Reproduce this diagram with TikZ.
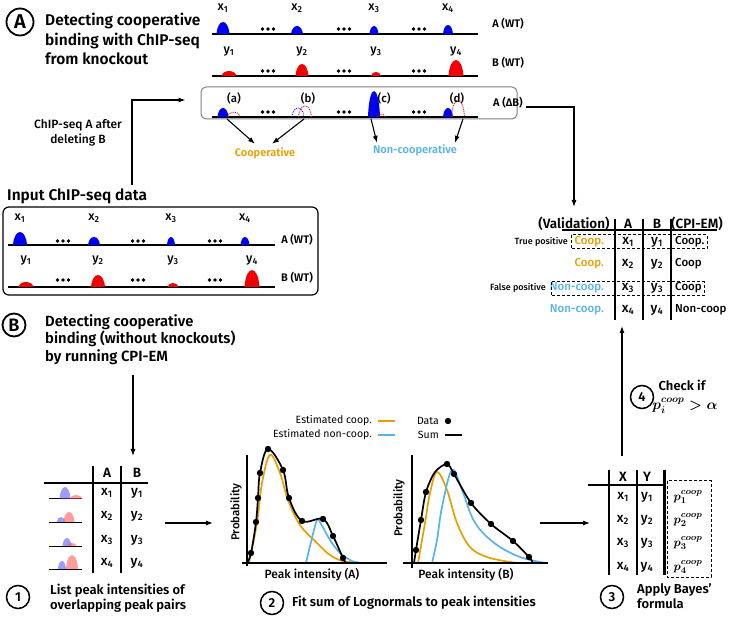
\documentclass[tikz,border=0pt]{standalone}
\usepackage{fontspec}
\IfFontExistsTF{Fira Sans SemiBold}
  {\setmainfont{Fira Sans}[BoldFont={Fira Sans SemiBold}]}
  {\setmainfont{Fira Sans}}
\IfFontExistsTF{Fira Sans Medium}
  {\newfontfamily\medfont{Fira Sans Medium}}
  {\newcommand{\medfont}{\bfseries}}
\usetikzlibrary{arrows.meta}

\definecolor{coopc}{HTML}{E69F00}
\definecolor{ncoopc}{HTML}{56B4E9}
\definecolor{pkblue}{HTML}{0000F0}
\definecolor{pkred}{HTML}{F00000}

\newcommand{\bump}[5]{\path[#1] ({#2-#4},#3) .. controls ({#2-0.8*#4},{#3-1.33*#5}) and ({#2+0.8*#4},{#3-1.33*#5}) .. ({#2+#4},#3);}
\newcommand{\dotdotdot}[2]{\foreach \dx in {-5.5,0,5.5} {\fill ({#1+\dx},#2) circle (1.8);}}

\tikzset{
  arr/.style={-{Latex[length=7pt,width=5pt]}, line width=1.1pt},
  ttl/.style={font=\fontsize{15.5}{19.5}\selectfont\bfseries, align=left, inner sep=0pt, anchor=north west},
  stp/.style={font=\fontsize{13}{15}\selectfont\bfseries, align=left, inner sep=0pt},
  num/.style={circle, draw, line width=1.5pt, minimum size=23pt, inner sep=0pt, font=\fontsize{13}{13}\selectfont\bfseries},
  idx/.style={font=\fontsize{12.5}{14}\selectfont\medfont, inner sep=1pt},
  trk/.style={font=\fontsize{11}{13}\selectfont\bfseries, inner sep=1pt},
  hd/.style={font=\fontsize{13.5}{15}\selectfont\bfseries, inner sep=1pt},
  cell/.style={font=\fontsize{13.5}{15}\selectfont\medfont, inner sep=1pt},
  tag/.style={font=\fontsize{11.5}{13}\selectfont\medfont, inner sep=1pt},
  base/.style={line width=1.3pt},
  ax/.style={line width=2pt},
  dotpk/.style={densely dotted, line width=0.9pt},
}

\begin{document}
\begin{tikzpicture}[x=1pt, y=-1pt]
    \useasboundingbox (0,0) rectangle (729,620);

    % (A) knockout
    \node[circle, draw, line width=1.8pt, minimum size=27pt, inner sep=0pt, font=\fontsize{20}{20}\selectfont\bfseries] (cA) at (20,22) {A};
    \node[ttl] (ttlA) at (45,13) {Detecting cooperative\\binding with ChIP-seq\\from knockout};

    \draw[base] (212,34) -- (478,34);
    \foreach \x/\w/\h [count=\i] in {223/6.5/12, 297/6/8, 374/4.5/8, 448/5/9}
      {\bump{fill=pkblue}{\x}{34}{\w}{\h}
       \node[idx] (tax\i) at (\x,8) {x\textsubscript{\i}};}
    \foreach \x in {268,344,419} {\dotdotdot{\x}{29}}
    \node[trk] (taw) at (508,24) {A (WT)};

    \draw[base] (212,76) -- (478,76);
    \foreach \x/\w/\h [count=\i] in {229/7.5/5, 302/6.5/12, 376/5/4, 456/7.5/16}
      {\bump{fill=pkred}{\x}{76}{\w}{\h}
       \node[idx] (tby\i) at (\x,52) {y\textsubscript{\i}};}
    \foreach \x in {268,344,419} {\dotdotdot{\x}{71}}
    \node[trk] (tbw) at (508,63) {B (WT)};

    \node[draw=gray, rounded corners=5pt, line width=1pt, minimum width=316pt, minimum height=32pt] (kobox) at (359,103) {};
    \draw[base] (212,117) -- (478,117);
    \bump{fill=pkblue}{223}{117}{5.5}{9}
    \bump{draw=pkred, dotpk}{234}{117}{6}{5}
    \bump{draw=pkblue, dotpk}{298}{117}{6}{9}
    \bump{draw=pkred, dotpk}{305}{117}{6.5}{11}
    \bump{fill=pkblue}{374}{117}{6}{26}
    \bump{draw=pkred, dotpk}{381}{117}{4}{3}
    \bump{fill=pkblue}{448}{117}{5}{9}
    \bump{draw=pkred, dotpk}{458}{117}{6.5}{17}
    \foreach \x/\t in {234/a, 308/b, 384/c, 457/d}
      {\node[tag] (lb\t) at (\x,98) {(\t)};}
    \foreach \x in {268,344,419} {\dotdotdot{\x}{112}}
    \node[trk] (tko) at (508,103) {A (ΔB)};

    \node[font=\fontsize{11}{13}\selectfont\bfseries, text=coopc] (coop) at (265,153) {Cooperative};
    \node[font=\fontsize{11}{13}\selectfont\bfseries, text=ncoopc] (ncoop) at (415,150) {Non-cooperative};
    \coordinate (pa) at (227,119);
    \coordinate (pb) at (304,119);
    \coordinate (pc) at (371,119);
    \coordinate (pd) at (463,119);
    \draw[arr] (pa) -- ([xshift=-10pt]coop.north);
    \draw[arr] (pb) -- ([xshift=7pt]coop.north);
    \draw[arr] (pc) -- ([xshift=-38pt,yshift=-2pt]ncoop.north);
    \draw[arr] (pd) -- ([xshift=40pt,yshift=-2pt]ncoop.north);

    \node[font=\fontsize{12}{15}\selectfont\medfont, align=center] (ttlko) at (78,133) {ChIP-seq A after\\deleting B};
    \coordinate (ko0) at (132,185);
    \draw[arr] (ko0) |- ([xshift=-15pt,yshift=3pt]kobox.west);

    % input data
    \node[font=\fontsize{15.5}{19}\selectfont\bfseries, inner sep=0pt, anchor=west] (ttlin) at (7,196) {Input ChIP-seq data};
    \node[draw, rounded corners=6pt, line width=1.2pt, minimum width=315pt, minimum height=88pt] (inbox) at (160.5,251) {};
    \draw[base] (8,245) -- (275,245);
    \foreach \x/\w/\h [count=\i] in {20/7/13, 94/6/8, 171/4/8, 245/4.5/8}
      {\bump{fill=pkblue}{\x}{245}{\w}{\h}
       \node[idx] (iax\i) at (\x,218) {x\textsubscript{\i}};}
    \foreach \x in {63,138,215} {\dotdotdot{\x}{241}}
    \node[trk] (iaw) at (297,240) {A (WT)};
    \draw[base] (8,287) -- (275,287);
    \foreach \x/\w/\h [count=\i] in {26/7.5/5, 98/7/12, 173/5.5/4, 252/7.5/17}
      {\bump{fill=pkred}{\x}{287}{\w}{\h}
       \node[idx] (iby\i) at (\x,261) {y\textsubscript{\i}};}
    \foreach \x in {63,138,215} {\dotdotdot{\x}{280}}
    \node[trk] (ibw) at (297,278) {B (WT)};

    % validation table
    \coordinate (ko1) at ([xshift=8pt,yshift=-4pt]kobox.east);
    \node[hd] (vhdr) at (574,224) {(Validation)};
    \node[hd] (vA) at (628,224) {A};
    \node[hd] (vB) at (657,224) {B};
    \node[hd] (vC) at (697,224) {(CPI-EM)};
    \draw[arr] (ko1) -| ([yshift=9pt]vhdr.north);
    \foreach \x in {615,643,671} {\draw[line width=1.2pt] (\x,219) -- (\x,320);}
    \draw[line width=1.2pt] (562,230) -- (717,230);
    \foreach \y/\v/\c/\e [count=\i] in {242/Coop./coopc/Coop., 264/Coop./coopc/Coop, 288/Non-coop./ncoopc/Coop, 310/Non-coop./ncoopc/Non-coop}
      {\node[tag, text=\c, anchor=east] (vv\i) at (605,\y) {\v};
       \node[cell] (vx\i) at (628,\y) {x\textsubscript{\i}};
       \node[cell] (vy\i) at (657,\y) {y\textsubscript{\i}};
       \node[tag, anchor=west] (ve\i) at (674,\y) {\e};}
    \node[font=\fontsize{9}{11}\selectfont\medfont, anchor=east, inner sep=1pt] (tp) at (569,242) {True positive};
    \node[font=\fontsize{9}{11}\selectfont\medfont, anchor=east, inner sep=1pt] (fp) at (547,288) {False positive};
    \draw[densely dashed, line width=1pt] (571,235) rectangle (707,249);
    \draw[densely dashed, line width=1pt] (551,282) rectangle (704,296);

    % (B) CPI-EM
    \node[circle, draw, line width=1.8pt, minimum size=23pt, inner sep=0pt, font=\fontsize{18}{18}\selectfont\bfseries] (cB) at (14,325) {B};
    \node[ttl, font=\fontsize{14.8}{17.5}\selectfont\bfseries] (ttlB) at (45,314) {Detecting cooperative\\binding (without knockouts)\\by running CPI-EM};
    \coordinate (b0) at (133,375);
    \coordinate (b1) at (133,456);
    \draw[arr] (b0) -- (b1);

    % step 1
    \node[hd] (t1A) at (107,473) {A};
    \node[hd] (t1B) at (137,473) {B};
    \foreach \x in {93,121} {\draw[line width=1.2pt] (\x,466) -- (\x,573);}
    \draw[line width=1.2pt] (44,483) -- (148,483);
    \foreach \y/\ba/\wa/\ha/\bb/\wb/\hb [count=\i] in {499/65/5.5/12/76/6.5/4, 522/61/4/5/69/5.5/10, 546/67/4.5/8/72/4.5/3, 569/62/4/8/72/6/14}
      {\draw[line width=1pt] (49,\y) -- (82,\y);
       \bump{fill=blue!70, fill opacity=0.55}{\ba}{\y}{\wa}{\ha}
       \bump{fill=red!70, fill opacity=0.55}{\bb}{\y}{\wb}{\hb}
       \node[cell] (t1x\i) at (107,\y-6) {x\textsubscript{\i}};
       \node[cell] (t1y\i) at (137,\y-6) {y\textsubscript{\i}};}
    \node[num] (s1) at (18,597) {1};
    \node[stp, anchor=west] (s1t) at (50,598) {List peak intensities of\\overlapping peak pairs};
    \coordinate (a0) at (165,523);
    \coordinate (a1) at (213,523);
    \draw[arr] (a0) -- (a1);

    % step 2: fits
    \node[tag, font=\fontsize{10.5}{12}\selectfont, anchor=east] (lgc) at (373,421) {Estimated coop.};
    \node[tag, font=\fontsize{10.5}{12}\selectfont, anchor=east] (lgn) at (373,435) {Estimated non-coop.};
    \node[tag, font=\fontsize{10.5}{12}\selectfont, anchor=east] (lgd) at (440,421) {Data};
    \node[tag, font=\fontsize{10.5}{12}\selectfont, anchor=east] (lgs) at (440,435) {Sum};
    \draw[coopc, line width=1.8pt] (378,421) -- (395,421);
    \draw[ncoopc, line width=1.8pt] (378,435) -- (395,435);
    \fill (448,421) circle (3.2);
    \draw[line width=1.8pt] (445,435) -- (462,435);

    \draw[coopc, line width=1.7pt] plot[smooth, tension=0.6] coordinates {(249,563) (257,523) (262,483) (270,455) (280,473) (288,500) (300,525) (317,543) (330,555) (343,561) (362,563)};
    \draw[ncoopc, line width=1.7pt] plot[smooth, tension=0.5] coordinates {(306,563) (311,542) (317,520) (321,524) (330,540) (340,553) (352,561) (362,563)};
    \draw[line width=1.7pt] plot[smooth, tension=0.6] coordinates {(247,563) (251,553) (256,522) (258,498) (260,473) (268,449) (283,470) (289,498) (302,521) (323,519) (333,536) (343,558) (346,563)};
    \foreach \p in {(251,553),(256,522),(258,498),(260,473),(268,449),(283,470),(289,498),(302,521),(323,519),(333,536),(343,558)}
      {\fill \p circle (3.2);}
    \draw[ax] (247,455) -- (247,566);
    \draw[ax] (242,563) -- (387,563);
    \node[tag, rotate=90] (pyA) at (236,512) {Probability};
    \node[cell, font=\fontsize{12}{14}\selectfont\medfont] (pxA) at (312,575) {Peak intensity (A)};

    \draw[coopc, line width=1.7pt] plot[smooth, tension=0.6] coordinates {(418,563) (425,523) (430,493) (437,472) (447,490) (457,523) (470,547) (487,557) (510,562) (520,563)};
    \draw[ncoopc, line width=1.7pt] plot[smooth, tension=0.6] coordinates {(432,563) (437,540) (442,507) (452,470) (462,490) (472,517) (483,533) (500,547) (520,557) (540,562) (548,563)};
    \draw[line width=1.7pt] plot[smooth, tension=0.5] coordinates {(414,563) (416,550) (421,520) (426,492) (435,472) (447,464) (454,474) (471,503) (491,524) (513,541) (529,557) (533,563)};
    \foreach \p in {(416,550),(421,520),(426,492),(447,464),(454,474),(471,503),(491,524),(513,541),(529,557)}
      {\fill \p circle (3.2);}
    \draw[ax] (412,455) -- (412,568);
    \draw[ax] (403,563) -- (548,563);
    \node[tag, rotate=90] (pyB) at (399,508) {Probability};
    \node[cell, font=\fontsize{12}{14}\selectfont\medfont] (pxB) at (466,575) {Peak intensity (B)};

    \node[num] (s2) at (272,603) {2};
    \node[stp, anchor=west] (s2t) at (292,603) {Fit sum of Lognormals to peak intensities};
    \coordinate (c0) at (540,523);
    \coordinate (c1) at (590,523);
    \draw[arr] (c0) -- (c1);

    % step 3 and 4
    \node[hd] (t3X) at (623,477) {X};
    \node[hd] (t3Y) at (647,477) {Y};
    \foreach \x in {609,637} {\draw[line width=1.2pt] (\x,470) -- (\x,575);}
    \draw[line width=2.2pt] (664.5,470) -- (664.5,575);
    \draw[line width=1.2pt] (588,485) -- (665,485);
    \foreach \y [count=\i] in {497,520,543,567}
      {\node[cell] (t3x\i) at (623,\y) {x\textsubscript{\i}};
       \node[cell] (t3y\i) at (647,\y) {y\textsubscript{\i}};
       \node[font=\fontsize{12.5}{14}\selectfont\boldmath, inner sep=0pt] (t3p\i) at (688,\y) {$p_{\i}^{coop}$};}
    \draw[densely dashed, line width=1pt] (667,481) rectangle (711,577);
    \node[num] (s3) at (612,597) {3};
    \node[stp, anchor=west] (s3t) at (637,596) {Apply Bayes'\\formula};

    \coordinate (d0) at (622,456);
    \coordinate (d1) at (622,326);
    \draw[arr] (d0) -- (d1);
    \node[num] (s4) at (642,397) {4};
    \node[stp, anchor=south, inner sep=0pt] (s4t) at (682,391) {Check if};
    \node[font=\fontsize{14.5}{16}\selectfont\boldmath, inner sep=0pt, anchor=north] (s4m) at (685,398) {$p_i^{coop} > \alpha$};
\end{tikzpicture}
\end{document}
